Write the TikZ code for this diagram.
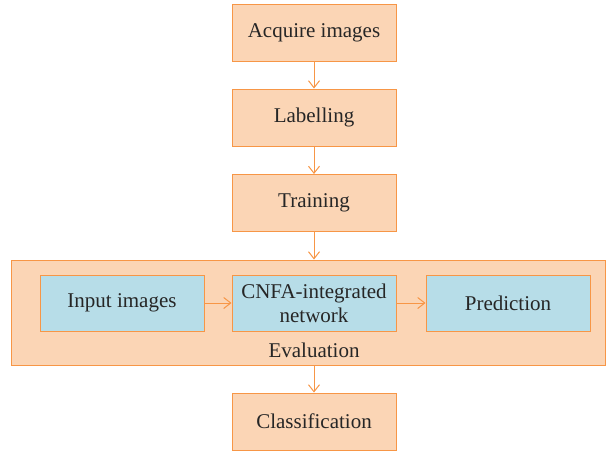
\documentclass[tikz,border=0pt]{standalone}
\usepackage{fontspec}
\setmainfont{Liberation Serif}
\usetikzlibrary{arrows.meta}
\definecolor{boxfill}{HTML}{FBD5B5}
\definecolor{boxline}{HTML}{F79646}
\definecolor{cellfill}{HTML}{B7DDE8}
\begin{document}
\begin{tikzpicture}[x=1pt, y=-1pt, line width=1pt,
  every node/.style={font=\fontsize{21}{24}\selectfont, text=black!85},
  stage/.style={draw=boxline, fill=boxfill, minimum width=164pt, minimum height=57pt, inner sep=2pt},
  cell/.style={draw=boxline, fill=cellfill, minimum width=164pt, minimum height=56pt, inner sep=2pt, align=center},
  flow/.style={draw=boxline, -{Straight Barb[length=7pt, width=11pt]}}]
\useasboundingbox (0,0) rectangle (606,451);

% main column of stages
\node[stage] (acq) at (314,32.5) {Acquire images};
\node[stage] (lab) at (314,117.5) {Labelling};
\node[stage] (trn) at (314,203) {Training};

% evaluation block holding the three cells
\node[draw=boxline, fill=boxfill, minimum width=594pt, minimum height=105pt, inner sep=0pt] (eval) at (308.5,312.5) {};
\node[anchor=center] (evl) at (314,350) {Evaluation};
\node[cell] (inp) at (122,303) {Input images};
\node[cell] (net) at (314,303) {CNFA-integrated\\network};
\node[cell] (prd) at (508,303) {Prediction};

\node[stage] (cls) at (314,421.5) {Classification};

% connectors
\draw[flow] (acq) -- (lab);
\draw[flow] (lab) -- (trn);
\draw[flow] (trn) -- (trn |- eval.north);
\draw[flow] (inp) -- (net);
\draw[flow] (net) -- (prd);
\draw[flow] (cls |- eval.south) -- (cls);

\end{tikzpicture}
\end{document}
